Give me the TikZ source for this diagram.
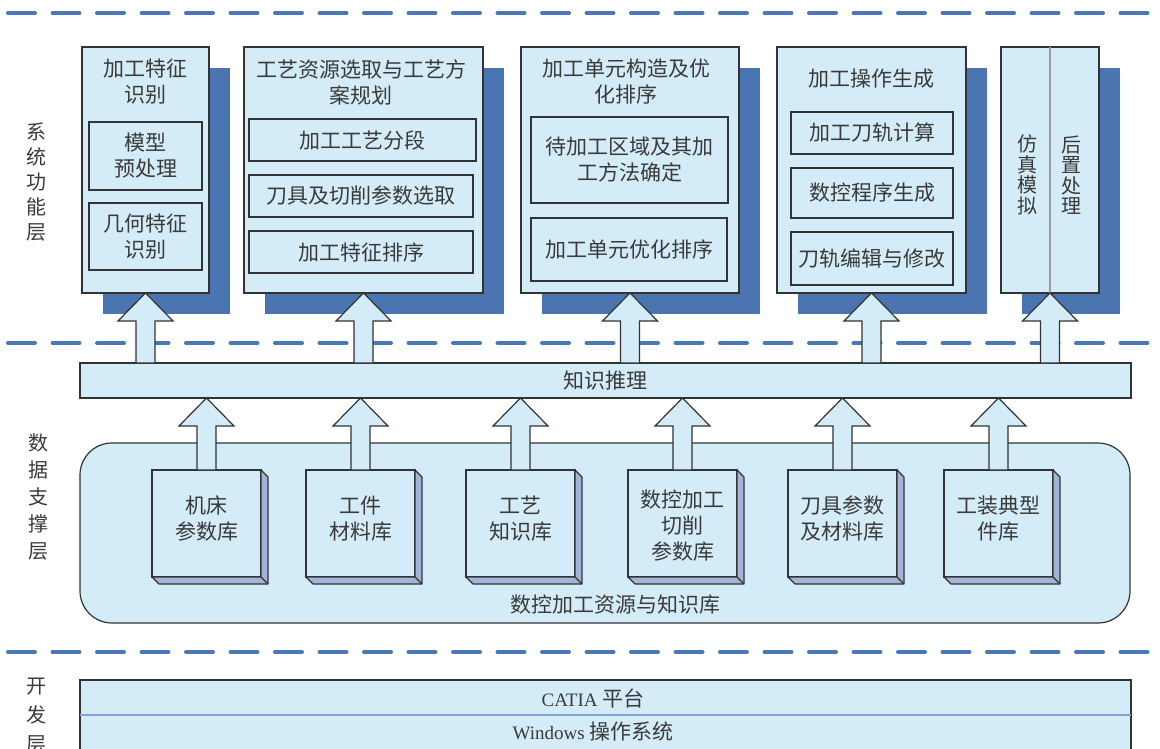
\documentclass[tikz,border=0pt]{standalone}
\usepackage{fontspec}
\setmainfont{Liberation Serif}
\newfontfamily\cjk{Noto Sans CJK SC}
\usetikzlibrary{shadows,calc}
\definecolor{fillb}{HTML}{D3ECF7}
\definecolor{shadowb}{HTML}{4A75B1}
\definecolor{dashb}{HTML}{4A77B6}
\definecolor{sideb}{HTML}{A2B5D9}
\definecolor{linec}{HTML}{333333}
\definecolor{textc}{HTML}{3A3A3A}
\definecolor{divb}{HTML}{7FA3CF}
\tikzset{
  every node/.style={font=\cjk\fontsize{21}{26}\selectfont, text=textc, inner sep=0pt, outer sep=0pt},
  layerline/.style={draw=dashb, line width=4pt, line cap=round, dash pattern=on 27pt off 17.5pt},
  bigbox/.style={draw=linec, line width=1.3pt, fill=fillb, anchor=north west,
     drop shadow={shadow xshift=21pt, shadow yshift=-21pt, opacity=1, fill=shadowb}},
  subbox/.style={draw=linec, line width=1.2pt, fill=fillb, anchor=north west, align=center},
  flatbox/.style={draw=linec, line width=1.2pt, fill=fillb, anchor=north west},
  dbbox/.style={draw=linec, line width=1.2pt, fill=fillb, anchor=north west, minimum width=109pt, minimum height=107pt},
  dbside/.style={draw=linec, line width=1.1pt, fill=sideb, line join=round},
  barr/.style={draw=linec, line width=1.2pt, fill=fillb, line join=miter},
  layerlabel/.style={align=center, font=\cjk\fontsize{20}{#1}\selectfont},
}
\newcommand\bigarrow[2]{%
  \draw[barr] let \p1=(#1), \p2=(#2) in
    (\x1,\y1) -- (\x1+27.5pt,\y1-28pt) -- (\x1+9.5pt,\y1-28pt) -- (\x1+9.5pt,\y2)
    -- (\x1-9.5pt,\y2) -- (\x1-9.5pt,\y1-28pt) -- (\x1-27.5pt,\y1-28pt) -- cycle;}
\begin{document}
\begin{tikzpicture}[x=1pt,y=-1pt]
\useasboundingbox (0,0) rectangle (1160,749);
% layer separators
\coordinate (l1a) at (8,13);  \coordinate (l1b) at (1165,13);
\coordinate (l2a) at (8,343); \coordinate (l2b) at (1165,343);
\coordinate (l3a) at (8,652); \coordinate (l3b) at (1165,652);
\draw[layerline] (l1a) -- (l1b);
\draw[layerline] (l2a) -- (l2b);
\draw[layerline] (l3a) -- (l3b);
% layer labels
\node[layerlabel=25] (lab1) at (37,182) {系\\统\\功\\能\\层};
\node[layerlabel=27] (lab2) at (38,497) {数\\据\\支\\撑\\层};
\node[layerlabel=29] (lab3) at (37,716) {开\\发\\层};
% function boxes
\node[bigbox, minimum width=127pt, minimum height=246pt] (b1) at (82,47) {};
\node[align=center] (t1) at (145.5,82) {加工特征\\识别};
\node[subbox, minimum width=113pt, minimum height=68pt] (i11) at (89,122) {模型\\预处理};
\node[subbox, minimum width=113pt, minimum height=67pt] (i12) at (89,203) {几何特征\\识别};

\node[bigbox, minimum width=239pt, minimum height=246pt] (b2) at (244,47) {};
\node[align=center] (t2) at (361,82) {工艺资源选取与工艺方\\案规划};
\node[subbox, minimum width=227pt, minimum height=42pt] (i21) at (249,119) {加工工艺分段};
\node[subbox, minimum width=224pt, minimum height=42pt] (i22) at (249,175) {刀具及切削参数选取};
\node[subbox, minimum width=224pt, minimum height=42pt] (i23) at (249,231) {加工特征排序};

\node[bigbox, minimum width=218pt, minimum height=246pt] (b3) at (521,47) {};
\node[align=center] (t3) at (626,82) {加工单元构造及优\\化排序};
\node[subbox, minimum width=197pt, minimum height=86pt] (i31) at (531,117) {待加工区域及其加\\工方法确定};
\node[subbox, minimum width=196pt, minimum height=63pt] (i32) at (531,218) {加工单元优化排序};

\node[bigbox, minimum width=189pt, minimum height=246pt] (b4) at (777,47) {};
\node (t4) at (871.5,79) {加工操作生成};
\node[subbox, minimum width=162pt, minimum height=42pt] (i41) at (791,112) {加工刀轨计算};
\node[subbox, minimum width=162pt, minimum height=50pt] (i42) at (791,168) {数控程序生成};
\node[subbox, minimum width=162pt, minimum height=53pt] (i43) at (791,232) {刀轨编辑与修改};

\node[bigbox, minimum width=98pt, minimum height=246pt] (b5) at (1001,47) {};
\draw[draw=black!40, line width=1.5pt] (b5.north) -- (b5.south);
\node[align=center, font=\cjk\fontsize{20}{20.5}\selectfont] (t5a) at (1027,175) {仿\\真\\模\\拟};
\node[align=center, font=\cjk\fontsize{20}{20.5}\selectfont] (t5b) at (1071,175) {后\\置\\处\\理};
% knowledge reasoning bar
\node[flatbox, minimum width=1051pt, minimum height=35pt] (kb) at (80,363) {};
\node (kbt) at (kb.center) {知识推理};
% data support region
\draw[draw=linec, line width=1.2pt, fill=fillb, rounded corners=32pt] (80,443) rectangle (1130,623);
\coordinate (regc) at (605,533);
\node (regt) at (615,605) {数控加工资源与知识库};
% database boxes
\foreach \x/\n in {152/d1,306/d2,466/d3,628/d4,788/d5,944/d6}{
  \node[dbbox] (\n) at (\x,470) {};
  \draw[dbside] (\n.north east) -- ++(7,7) -- ($(\n.south east)+(7,7)$) -- ($(\n.south west)+(7,7)$) -- (\n.south west) -- (\n.south east) -- cycle;
  \draw[draw=linec, line width=1.1pt] (\n.south east) -- ++(7,7);
}
\node[align=center] (dt1) at ($(d1.center)+(0,-5)$) {机床\\参数库};
\node[align=center] (dt2) at ($(d2.center)+(0,-5)$) {工件\\材料库};
\node[align=center] (dt3) at ($(d3.center)+(0,-5)$) {工艺\\知识库};
\node[align=center] (dt4) at ($(d4.center)+(0,2)$) {数控加工\\切削\\参数库};
\node[align=center] (dt5) at ($(d5.center)+(0,-5)$) {刀具参数\\及材料库};
\node[align=center] (dt6) at ($(d6.center)+(0,-5)$) {工装典型\\件库};
% arrows: knowledge reasoning -> function boxes
\foreach \b in {b1,b2,b3,b4,b5}{ \bigarrow{\b.south}{\b.south |- kb.north} }
% arrows: databases -> knowledge reasoning
\foreach \d in {d1,d2,d3,d4,d5,d6}{ \bigarrow{\d.north |- kb.south}{\d.north} }
% development layer
\node[flatbox, minimum width=1051pt, minimum height=90pt] (plat) at (80,680) {};
\draw[draw=divb, line width=1.6pt] (80,715) -- (1131,715);
\node (pt1) at (593,698) {{\rmfamily\fontsize{19}{24}\selectfont CATIA} 平台};
\node (pt2) at (593,731) {{\rmfamily\fontsize{19}{24}\selectfont Windows} 操作系统};
\end{tikzpicture}
\end{document}
